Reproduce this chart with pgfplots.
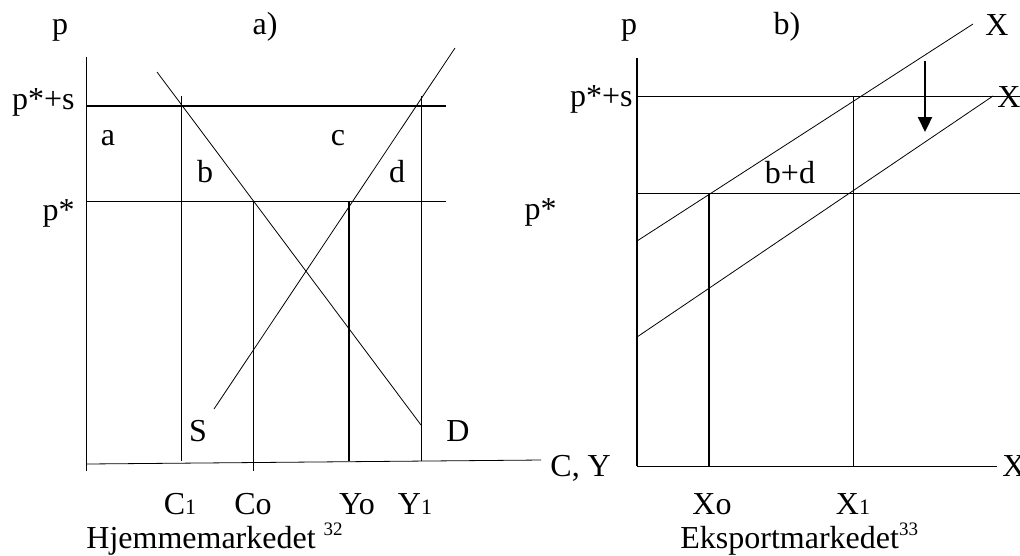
\documentclass[border=0pt]{standalone}
\usepackage{fontspec}
\setmainfont{Liberation Serif}
\usepackage{pgfplots}
\pgfplotsset{compat=1.18}
\usetikzlibrary{arrows.meta}

\newcommand{\lbl}{\fontsize{16}{18}\selectfont}
\newcommand{\subsm}[1]{{\fontsize{11}{12}\selectfont #1}}
\newcommand{\supsm}[1]{\raisebox{6.5pt}{\fontsize{9.5}{11}\selectfont #1}}

\begin{document}
\begin{tikzpicture}
\begin{axis}[
    scale only axis,
    width=510pt, height=277.5pt,
    xmin=0, xmax=1020, ymin=0, ymax=555,
    y dir=reverse,
    hide axis,
    clip=false,
    cycle list={{black, solid, line width=1.1pt, mark=none}},
    nodes={font=\lbl, inner sep=0pt},
]
% --- a) Hjemmemarkedet ---
\addplot coordinates {(86,57) (86,471)};
\addplot coordinates {(86,464) (541,460)};
\addplot coordinates {(86,106) (446,106)};
\addplot coordinates {(86,201.5) (446,201.5)};
\addplot coordinates {(181,96) (181,461)};
\addplot coordinates {(253,201.5) (253,471)};
\addplot coordinates {(349,201.5) (349,461)};
\addplot coordinates {(421,96) (421,461)};
\addplot coordinates {(157,72) (421,425)};   % D
\addplot coordinates {(214,409) (455,48)};   % S

% --- b) Eksportmarkedet ---
\addplot coordinates {(637,58) (637,466)};
\addplot coordinates {(637,466) (997,466)};
\addplot coordinates {(637,96) (1020,96)};
\addplot coordinates {(637,193) (1020,193)};
\addplot coordinates {(709,193) (709,466)};
\addplot coordinates {(853,96) (853,466)};
\addplot coordinates {(637,241) (973,24)};   % X
\addplot coordinates {(637,337) (993,96)};   % X'
\addplot[black, line width=1.1pt, -{Triangle[length=7.5pt,width=7pt]}] coordinates {(925,61) (925,132)};

% labels a)
\node[anchor=base] at (axis cs:60,35) {p};
\node[anchor=base] at (axis cs:265,35) {a)};
\node[anchor=base east] at (axis cs:75,109) {p*+s};
\node[anchor=base east] at (axis cs:75,220) {p*};
\node[anchor=base] at (axis cs:108,145) {a};
\node[anchor=base] at (axis cs:205,182) {b};
\node[anchor=base] at (axis cs:338,145) {c};
\node[anchor=base] at (axis cs:397,182) {d};
\node[anchor=base] at (axis cs:198,441) {S};
\node[anchor=base] at (axis cs:458,441) {D};
\node[anchor=base] at (axis cs:180,514) {C\subsm{1}};
\node[anchor=base] at (axis cs:253,514) {Co};
\node[anchor=base] at (axis cs:357,514) {Yo};
\node[anchor=base] at (axis cs:415,514) {Y\subsm{1}};
\node[anchor=base west] at (axis cs:86,548) {Hjemmemarkedet \supsm{32}};
\node[anchor=base west] at (axis cs:550,476) {C, Y};

% labels b)
\node[anchor=base] at (axis cs:629,35) {p};
\node[anchor=base] at (axis cs:787,35) {b)};
\node[anchor=base west] at (axis cs:985,36) {X};
\node[anchor=base east] at (axis cs:633,106) {p*+s};
\node[anchor=base west] at (axis cs:997,107) {X};
\node[anchor=base] at (axis cs:790,183) {b+d};
\node[anchor=base east] at (axis cs:557,219) {p*};
\node[anchor=base] at (axis cs:712,514) {Xo};
\node[anchor=base] at (axis cs:853,514) {X\subsm{1}};
\node[anchor=base west] at (axis cs:680,548) {Eksportmarkedet\supsm{33}};
\node[anchor=base west] at (axis cs:1002,476) {X};

\coordinate (ll) at (axis cs:0,555);
\coordinate (ur) at (axis cs:1020,0);
\end{axis}
\pgfresetboundingbox
\path[use as bounding box] (ll) rectangle (ur);
\end{tikzpicture}
\end{document}
